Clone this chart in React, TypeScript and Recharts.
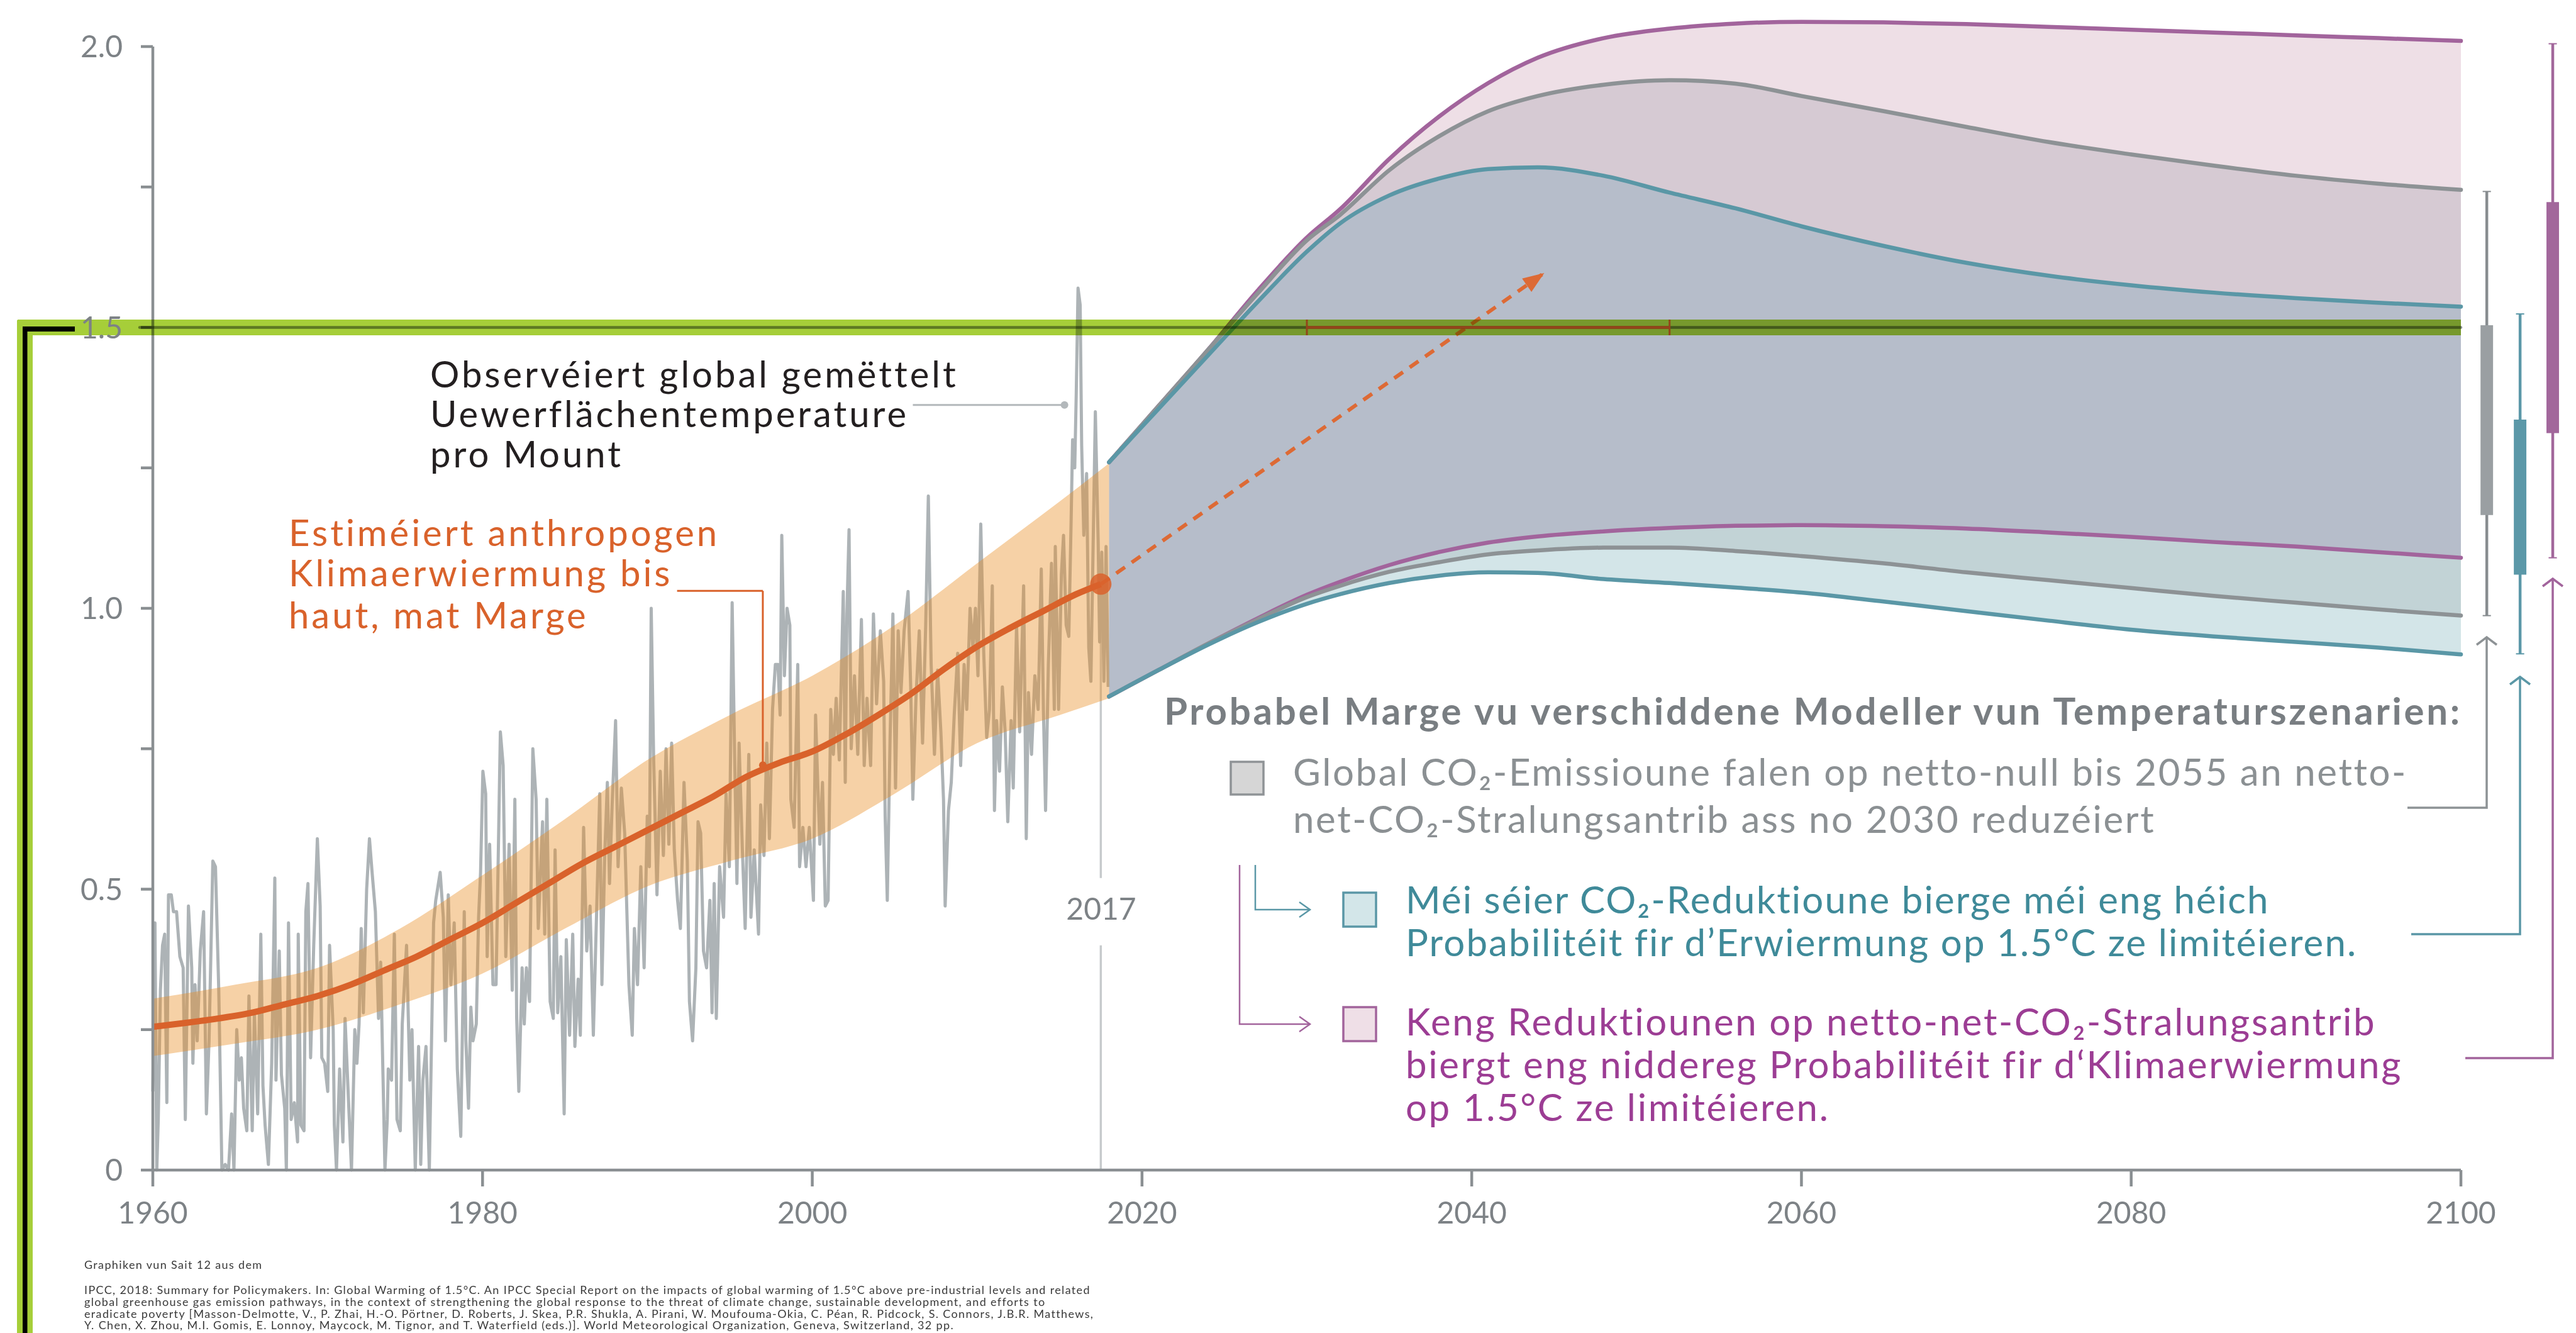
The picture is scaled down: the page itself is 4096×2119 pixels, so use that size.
import React from 'react';
import {
  Area,
  ComposedChart,
  Line,
  ReferenceArea,
  ReferenceDot,
  ReferenceLine,
  XAxis,
  YAxis,
} from 'recharts';

const FONT = 'Lato, "Noto Sans", sans-serif';
const AXIS = '#8a8f92';
const TICK = '#7d8286';
const GREEN = '#a6ce39';
const ORANGE = '#d9622b';
const TEAL = '#5a97a6';
const GREY = '#8d9295';
const PURPLE = '#a2649c';

// observed monthly global mean surface temperature, [year, °C]
const observedMonthly: [number, number][] = [
  [1960.0, 0.14], [1960.13, 0.44], [1960.24, 0.0], [1960.33, 0.09], [1960.46, 0.32], [1960.59, 0.4], [1960.72, 0.42], [1960.85, 0.12],
  [1960.95, 0.49], [1961.12, 0.49], [1961.25, 0.46], [1961.44, 0.46], [1961.64, 0.38], [1961.84, 0.36], [1961.97, 0.09], [1962.16, 0.47],
  [1962.36, 0.36], [1962.43, 0.19], [1962.56, 0.33], [1962.69, 0.23], [1962.88, 0.39], [1963.08, 0.46], [1963.25, 0.1], [1963.41, 0.23],
  [1963.64, 0.55], [1963.8, 0.54], [1964.0, 0.32], [1964.19, 0.0], [1964.39, 0.01], [1964.59, 0.0], [1964.78, 0.1], [1964.92, 0.0],
  [1965.09, 0.25], [1965.24, 0.16], [1965.37, 0.2], [1965.51, 0.11], [1965.7, 0.07], [1965.83, 0.31], [1966.03, 0.07], [1966.16, 0.28],
  [1966.36, 0.1], [1966.55, 0.42], [1966.68, 0.15], [1966.81, 0.08], [1967.01, 0.01], [1967.21, 0.19], [1967.4, 0.52], [1967.47, 0.16],
  [1967.67, 0.39], [1967.8, 0.17], [1968.0, 0.11], [1968.1, 0.0], [1968.23, 0.44], [1968.39, 0.09], [1968.58, 0.12], [1968.78, 0.05],
  [1968.82, 0.42], [1968.98, 0.08], [1969.17, 0.07], [1969.28, 0.46], [1969.41, 0.51], [1969.57, 0.2], [1969.76, 0.4], [1969.98, 0.59],
  [1970.15, 0.47], [1970.25, 0.2], [1970.42, 0.19], [1970.61, 0.14], [1970.72, 0.4], [1970.94, 0.25], [1971.01, 0.08], [1971.14, 0.0],
  [1971.33, 0.18], [1971.53, 0.05], [1971.66, 0.27], [1971.86, 0.13], [1972.05, 0.0], [1972.25, 0.25], [1972.38, 0.19], [1972.51, 0.26],
  [1972.64, 0.43], [1972.77, 0.28], [1972.97, 0.5], [1973.14, 0.59], [1973.3, 0.53], [1973.5, 0.46], [1973.69, 0.27], [1973.82, 0.37],
  [1973.96, 0.17], [1974.08, 0.0], [1974.22, 0.09], [1974.28, 0.18], [1974.48, 0.16], [1974.65, 0.42], [1974.81, 0.09], [1975.01, 0.07],
  [1975.13, 0.26], [1975.39, 0.4], [1975.59, 0.16], [1975.72, 0.25], [1975.92, 0.0], [1976.12, 0.22], [1976.25, 0.01], [1976.38, 0.16],
  [1976.57, 0.22], [1976.77, 0.0], [1977.03, 0.44], [1977.16, 0.48], [1977.43, 0.53], [1977.62, 0.45], [1977.75, 0.23], [1977.92, 0.49],
  [1978.08, 0.33], [1978.28, 0.44], [1978.47, 0.18], [1978.68, 0.06], [1978.89, 0.46], [1978.99, 0.23], [1979.15, 0.11], [1979.29, 0.29],
  [1979.42, 0.23], [1979.62, 0.26], [1979.76, 0.45], [1979.88, 0.53], [1980.02, 0.71], [1980.19, 0.67], [1980.28, 0.38], [1980.43, 0.58],
  [1980.63, 0.33], [1980.82, 0.33], [1981.08, 0.78], [1981.25, 0.72], [1981.41, 0.38], [1981.61, 0.58], [1981.8, 0.32], [1981.96, 0.66],
  [1982.07, 0.27], [1982.2, 0.14], [1982.4, 0.36], [1982.53, 0.26], [1982.66, 0.36], [1982.85, 0.3], [1983.05, 0.75], [1983.25, 0.66],
  [1983.38, 0.43], [1983.64, 0.62], [1983.77, 0.42], [1983.9, 0.66], [1984.1, 0.3], [1984.29, 0.27], [1984.4, 0.57], [1984.56, 0.28],
  [1984.75, 0.38], [1984.95, 0.1], [1985.08, 0.41], [1985.28, 0.24], [1985.47, 0.42], [1985.6, 0.22], [1985.8, 0.34], [1985.93, 0.24],
  [1986.13, 0.61], [1986.32, 0.39], [1986.52, 0.47], [1986.72, 0.24], [1986.91, 0.45], [1987.11, 0.67], [1987.24, 0.33], [1987.41, 0.56],
  [1987.57, 0.69], [1987.7, 0.51], [1987.86, 0.65], [1988.07, 0.8], [1988.22, 0.54], [1988.42, 0.68], [1988.62, 0.6], [1988.88, 0.33],
  [1989.08, 0.24], [1989.21, 0.43], [1989.4, 0.33], [1989.6, 0.54], [1989.8, 0.36], [1989.99, 0.63], [1990.12, 0.54], [1990.23, 1.0],
  [1990.38, 0.73], [1990.58, 0.49], [1990.78, 0.71], [1990.97, 0.56], [1991.13, 0.75], [1991.3, 0.58], [1991.47, 0.76], [1991.63, 0.57],
  [1991.83, 0.48], [1992.0, 0.43], [1992.22, 0.69], [1992.42, 0.55], [1992.55, 0.3], [1992.74, 0.23], [1992.94, 0.36], [1993.07, 0.62],
  [1993.23, 0.6], [1993.4, 0.39], [1993.59, 0.36], [1993.79, 0.48], [1993.92, 0.28], [1994.05, 0.51], [1994.18, 0.27], [1994.38, 0.54],
  [1994.62, 0.45], [1994.77, 0.67], [1994.97, 0.54], [1995.14, 1.01], [1995.3, 0.72], [1995.43, 0.51], [1995.56, 0.76], [1995.76, 0.57],
  [1995.93, 0.43], [1996.15, 0.74], [1996.28, 0.45], [1996.48, 0.57], [1996.74, 0.42], [1996.87, 0.65], [1997.07, 0.56], [1997.24, 0.76],
  [1997.4, 0.59], [1997.59, 0.82], [1997.76, 0.9], [1997.92, 0.9], [1998.05, 0.81], [1998.15, 1.13], [1998.31, 0.88], [1998.47, 1.0],
  [1998.64, 0.97], [1998.7, 0.66], [1998.9, 0.61], [1999.12, 0.9], [1999.23, 0.54], [1999.43, 0.61], [1999.62, 0.54], [1999.82, 0.61],
  [2000.07, 0.48], [2000.2, 0.81], [2000.33, 0.69], [2000.46, 0.58], [2000.62, 0.69], [2000.79, 0.47], [2000.96, 0.48], [2001.12, 0.82],
  [2001.28, 0.74], [2001.45, 0.84], [2001.64, 0.73], [2001.88, 1.03], [2002.0, 0.69], [2002.1, 0.99], [2002.23, 1.14], [2002.36, 0.75],
  [2002.56, 0.88], [2002.76, 0.74], [2002.98, 0.98], [2003.15, 0.72], [2003.32, 0.84], [2003.54, 0.72], [2003.71, 0.99], [2003.9, 0.83],
  [2004.13, 0.96], [2004.33, 0.87], [2004.42, 0.63], [2004.55, 0.48], [2004.72, 0.77], [2004.89, 0.99], [2005.05, 0.68], [2005.21, 0.96],
  [2005.38, 0.85], [2005.57, 0.96], [2005.81, 1.03], [2005.97, 0.86], [2006.1, 0.66], [2006.29, 0.84], [2006.49, 0.96], [2006.69, 0.76],
  [2006.88, 0.97], [2007.04, 1.2], [2007.21, 0.9], [2007.41, 0.74], [2007.6, 0.89], [2007.8, 0.78], [2007.96, 0.66], [2008.06, 0.47],
  [2008.26, 0.64], [2008.43, 0.69], [2008.61, 0.81], [2008.82, 0.92], [2009.0, 0.72], [2009.21, 0.9], [2009.37, 0.82], [2009.57, 1.0],
  [2009.74, 0.93], [2009.9, 1.0], [2010.05, 0.88], [2010.22, 1.15], [2010.4, 0.92], [2010.58, 0.77], [2010.75, 0.82], [2010.92, 1.04],
  [2011.05, 0.64], [2011.18, 0.8], [2011.36, 0.71], [2011.53, 0.86], [2011.7, 0.78], [2011.86, 0.62], [2012.06, 0.8], [2012.19, 0.68],
  [2012.39, 0.97], [2012.58, 0.78], [2012.82, 1.04], [2012.98, 0.59], [2013.11, 0.85], [2013.3, 0.74], [2013.5, 0.88], [2013.7, 0.82],
  [2013.89, 1.07], [2014.02, 0.82], [2014.15, 0.64], [2014.32, 0.9], [2014.51, 1.08], [2014.68, 0.82], [2014.74, 1.11], [2014.94, 0.82],
  [2015.11, 1.06], [2015.24, 1.13], [2015.4, 0.97], [2015.56, 0.95], [2015.69, 1.14], [2015.79, 1.3], [2015.92, 1.25], [2016.01, 1.38],
  [2016.12, 1.57], [2016.25, 1.54], [2016.34, 1.29], [2016.47, 1.13], [2016.64, 1.24], [2016.77, 0.93], [2016.9, 0.87], [2017.04, 1.12],
  [2017.17, 1.35], [2017.34, 1.12], [2017.43, 0.94], [2017.56, 1.1], [2017.69, 0.87], [2017.82, 1.11], [2017.95, 0.86],
];

// estimated human-induced warming and its likely range
const bandYears = [1960, 1965, 1970, 1975, 1980, 1985, 1990, 1995, 2000, 2005, 2010, 2015, 2018];
const bandLow = [0.203, 0.225, 0.25, 0.295, 0.35, 0.43, 0.505, 0.55, 0.59, 0.67, 0.76, 0.81, 0.84];
const bandHigh = [0.305, 0.33, 0.36, 0.43, 0.525, 0.625, 0.73, 0.81, 0.88, 0.97, 1.08, 1.19, 1.258];

const trendYears = [1960, 1962, 1964, 1966, 1968, 1970, 1972, 1974, 1976, 1978, 1980, 1982, 1984, 1986, 1988,
  1990, 1992, 1994, 1996, 1998, 2000, 2002, 2004, 2006, 2008, 2010, 2012, 2014, 2016, 2017.5];
const trendValues = [0.255, 0.262, 0.27, 0.28, 0.295, 0.31, 0.33, 0.355, 0.38, 0.41, 0.44, 0.475, 0.51, 0.545, 0.575,
  0.605, 0.635, 0.665, 0.7, 0.725, 0.745, 0.775, 0.81, 0.848, 0.892, 0.932, 0.965, 0.995, 1.025, 1.043];

// dashed continuation arrow
const arrowYears = [2017.5, 2044.4];
const arrowValues = [1.043, 1.597];

// projected likely ranges
const projYears = [2018, 2021, 2024, 2027, 2030, 2032, 2035, 2038, 2041, 2044, 2048, 2052, 2056, 2060, 2065, 2070, 2075, 2080, 2085, 2090, 2095, 2100];
const purpleHigh = [1.26, 1.36, 1.46, 1.565, 1.66, 1.71, 1.8, 1.875, 1.935, 1.98, 2.015, 2.032, 2.041, 2.044, 2.043, 2.04, 2.035, 2.03, 2.025, 2.02, 2.015, 2.01];
const greyHigh = [1.26, 1.36, 1.46, 1.56, 1.655, 1.7, 1.78, 1.84, 1.885, 1.912, 1.932, 1.94, 1.934, 1.912, 1.885, 1.857, 1.83, 1.808, 1.788, 1.77, 1.756, 1.745];
const tealHigh = [1.26, 1.355, 1.45, 1.545, 1.635, 1.685, 1.735, 1.765, 1.782, 1.785, 1.77, 1.74, 1.712, 1.68, 1.645, 1.615, 1.592, 1.575, 1.562, 1.552, 1.544, 1.537];
const purpleLow = [0.843, 0.89, 0.937, 0.982, 1.024, 1.047, 1.077, 1.1, 1.117, 1.128, 1.137, 1.143, 1.147, 1.148, 1.146, 1.142, 1.135, 1.127, 1.118, 1.11, 1.1, 1.09];
const greyLow = [0.843, 0.89, 0.937, 0.98, 1.02, 1.04, 1.065, 1.082, 1.096, 1.103, 1.108, 1.108, 1.102, 1.093, 1.08, 1.064, 1.05, 1.036, 1.022, 1.01, 0.998, 0.987];
const tealLow = [0.843, 0.89, 0.935, 0.975, 1.008, 1.025, 1.045, 1.058, 1.064, 1.063, 1.052, 1.045, 1.037, 1.028, 1.012, 0.995, 0.978, 0.962, 0.95, 0.94, 0.93, 0.918];

// ranges in 2100 (whisker low, box low, box high, whisker high)
const boxLow = [0.987, 0.919, 1.09];
const boxQ1 = [1.166, 1.06, 1.312];
const boxQ3 = [1.504, 1.336, 1.723];
const boxHigh = [1.742, 1.524, 2.005];

// 1.5 °C reached between
const crossStart = 2030;
const crossEnd = 2052;

const xTicks = [1960, 1980, 2000, 2020, 2040, 2060, 2080, 2100];
const yTicks = [0, 0.25, 0.5, 0.75, 1, 1.25, 1.5, 1.75, 2];

// layout
const boxX = [2101.57, 2103.59, 2105.57];
const boxFill = ['#9a9fa2', '#5b98a8', '#a2679b'];
const boxLine = ['#888d90', '#5b98a8', '#a2679b'];

const observedData = observedMonthly.map(([year, temp]) => ({ year, temp }));
const bandData = bandYears.map((year, i) => ({ year, range: [bandLow[i], bandHigh[i]] }));
const trendData = trendYears.map((year, i) => ({ year, trend: trendValues[i] }));
const arrowData = arrowYears.map((year, i) => ({ year, arrow: arrowValues[i] }));
const projData = projYears.map((year, i) => ({
  year,
  purpleHigh: purpleHigh[i],
  greyHigh: greyHigh[i],
  tealHigh: tealHigh[i],
  purpleLow: purpleLow[i],
  greyLow: greyLow[i],
  tealLow: tealLow[i],
  f1: [tealLow[i], greyLow[i]],
  f2: [greyLow[i], purpleLow[i]],
  f3: [purpleLow[i], tealHigh[i]],
  f4: [tealHigh[i], greyHigh[i]],
  f5: [greyHigh[i], purpleHigh[i]],
}));

const fmtY = (v: number) => (v === 0 ? '0' : Math.round(v * 4) % 2 === 0 ? v.toFixed(1) : '');

const ArrowHead = (props: any) => {
  const { cx, cy, index, points } = props;
  if (index !== 1 || cx == null) return <g key={`ah-${index}`} />;
  let ang = -0.608;
  if (points && points.length > 1) ang = Math.atan2(cy - points[0].y, cx - points[0].x);
  const len = 34;
  const hw = 13;
  const bx = cx - len * Math.cos(ang);
  const by = cy - len * Math.sin(ang);
  const nx = -Math.sin(ang) * hw;
  const ny = Math.cos(ang) * hw;
  return (
    <polygon key={`ah-${index}`} points={`${cx},${cy} ${bx + nx},${by + ny} ${bx - nx},${by - ny}`} fill="#dd6a35" />
  );
};

const multBand = (p: any) => (
  <rect x={p.x} y={p.y} width={p.width} height={p.height} fill={GREEN} style={{ mixBlendMode: 'multiply' }} />
);

const Chev = ({ x, y, dir, color, w }: { x: number; y: number; dir: 'right' | 'up'; color: string; w: number }) =>
  dir === 'right' ? (
    <polyline points={`${x - 17},${y - 12} ${x},${y} ${x - 17},${y + 12}`} fill="none" stroke={color} strokeWidth={w} />
  ) : (
    <polyline points={`${x - 16},${y + 12} ${x},${y} ${x + 16},${y + 12}`} fill="none" stroke={color} strokeWidth={w} />
  );

export default function App() {
  return (
    <div style={{ position: 'relative', width: 4096, height: 2119, overflow: 'hidden', background: '#fff' }}>
      <style>{`body{margin:0} svg [clip-path]{clip-path:none !important} .mult{mix-blend-mode:multiply}`}</style>
      <ComposedChart width={4096} height={2119} margin={{ top: 74, right: 183, bottom: 179, left: 0 }}>
        <XAxis
          dataKey="year"
          type="number"
          domain={[1960, 2100]}
          ticks={xTicks}
          interval={0}
          height={80}
          tickSize={26}
          tickMargin={25}
          axisLine={{ stroke: AXIS, strokeWidth: 4.5 }}
          tickLine={{ stroke: AXIS, strokeWidth: 4.5 }}
          tick={{ fill: TICK, fontSize: 48, fontFamily: FONT }}
        />
        <YAxis
          type="number"
          domain={[0, 2]}
          allowDataOverflow
          ticks={yTicks}
          interval={0}
          width={243}
          tickSize={19}
          tickMargin={29}
          tickFormatter={fmtY}
          axisLine={{ stroke: AXIS, strokeWidth: 4.5 }}
          tickLine={{ stroke: AXIS, strokeWidth: 4.5 }}
          tick={{ fill: TICK, fontSize: 48, fontFamily: FONT }}
        />

        <Area data={projData} dataKey="f1" type="monotone" stroke="none" fill="#d3e5e8" fillOpacity={1} isAnimationActive={false} zIndex={101} />
        <Area data={projData} dataKey="f2" type="monotone" stroke="none" fill="#c2d3d6" fillOpacity={1} isAnimationActive={false} zIndex={102} />
        <Area data={projData} dataKey="f3" type="monotone" stroke="none" fill="#b6bdca" fillOpacity={1} isAnimationActive={false} zIndex={103} />
        <Area data={projData} dataKey="f4" type="monotone" stroke="none" fill="#d6cad3" fillOpacity={1} isAnimationActive={false} zIndex={104} />
        <Area data={projData} dataKey="f5" type="monotone" stroke="none" fill="#eedfe6" fillOpacity={1} isAnimationActive={false} zIndex={105} />

        <ReferenceLine segment={[{ x: 2017.5, y: 1.04 }, { x: 2017.5, y: 0.52 }]} stroke="#c6cacc" strokeWidth={3.4} ifOverflow="visible" zIndex={110} />
        <ReferenceLine segment={[{ x: 2017.5, y: 0.4 }, { x: 2017.5, y: 0 }]} stroke="#c6cacc" strokeWidth={3.4} ifOverflow="visible" zIndex={110} />

        <Line data={observedData} dataKey="temp" type="linear" stroke="#adb3b6" strokeWidth={5} strokeLinejoin="round" dot={false} isAnimationActive={false} zIndex={120} />
        <Area data={bandData} dataKey="range" type="monotone" stroke="none" fill="#e88c20" fillOpacity={0.4} isAnimationActive={false} zIndex={130} />
        <Line data={trendData} dataKey="trend" type="monotone" stroke={ORANGE} strokeWidth={10} dot={false} isAnimationActive={false} zIndex={140} />

        <Line data={projData} dataKey="purpleLow" type="monotone" stroke={PURPLE} strokeWidth={6.5} strokeLinecap="round" dot={false} isAnimationActive={false} zIndex={150} />
        <Line data={projData} dataKey="greyLow" type="monotone" stroke={GREY} strokeWidth={6.5} strokeLinecap="round" dot={false} isAnimationActive={false} zIndex={151} />
        <Line data={projData} dataKey="tealLow" type="monotone" stroke={TEAL} strokeWidth={6.5} strokeLinecap="round" dot={false} isAnimationActive={false} zIndex={152} />
        <Line data={projData} dataKey="purpleHigh" type="monotone" stroke={PURPLE} strokeWidth={6.5} strokeLinecap="round" dot={false} isAnimationActive={false} zIndex={153} />
        <Line data={projData} dataKey="greyHigh" type="monotone" stroke={GREY} strokeWidth={6.5} strokeLinecap="round" dot={false} isAnimationActive={false} zIndex={154} />
        <Line data={projData} dataKey="tealHigh" type="monotone" stroke={TEAL} strokeWidth={6.5} strokeLinecap="round" dot={false} isAnimationActive={false} zIndex={155} />

        <Line data={arrowData} dataKey="arrow" type="linear" stroke="#dd6a35" strokeWidth={6} strokeDasharray="17 13" dot={ArrowHead} isAnimationActive={false} zIndex={160} />
        <ReferenceDot x={2017.5} y={1.043} r={17} fill={ORANGE} fillOpacity={0.85} stroke="none" ifOverflow="visible" zIndex={170} />

        <ReferenceLine segment={[{ x: 2006.1, y: 1.362 }, { x: 2015.3, y: 1.362 }]} stroke="#b3b8bb" strokeWidth={3} ifOverflow="visible" zIndex={180} />
        <ReferenceDot x={2015.3} y={1.362} r={6} fill="#b3b8bb" stroke="none" ifOverflow="visible" zIndex={181} />
        <ReferenceLine segment={[{ x: 1991.8, y: 1.031 }, { x: 1997.0, y: 1.031 }]} stroke={ORANGE} strokeWidth={3} ifOverflow="visible" zIndex={180} />
        <ReferenceLine segment={[{ x: 1997.0, y: 1.031 }, { x: 1997.0, y: 0.721 }]} stroke={ORANGE} strokeWidth={3} ifOverflow="visible" zIndex={180} />
        <ReferenceDot x={1997.0} y={0.721} r={6} fill={ORANGE} stroke="none" ifOverflow="visible" zIndex={181} />

        {boxX.map((bx, i) => (
          <ReferenceLine key={`w${i}`} segment={[{ x: bx, y: boxLow[i] }, { x: bx, y: boxHigh[i] }]} stroke={boxLine[i]} strokeWidth={4.5} ifOverflow="visible" zIndex={190} />
        ))}
        {boxX.map((bx, i) => (
          <ReferenceLine key={`cl${i}`} segment={[{ x: bx - 0.25, y: boxLow[i] }, { x: bx + 0.25, y: boxLow[i] }]} stroke={boxLine[i]} strokeWidth={2} ifOverflow="visible" zIndex={190} />
        ))}
        {boxX.map((bx, i) => (
          <ReferenceLine key={`ch${i}`} segment={[{ x: bx - 0.25, y: boxHigh[i] }, { x: bx + 0.25, y: boxHigh[i] }]} stroke={boxLine[i]} strokeWidth={2} ifOverflow="visible" zIndex={190} />
        ))}
        {boxX.map((bx, i) => (
          <ReferenceArea key={`b${i}`} x1={bx - 0.38} x2={bx + 0.38} y1={boxQ1[i]} y2={boxQ3[i]} fill={boxFill[i]} fillOpacity={1} stroke="none" ifOverflow="visible" zIndex={191} />
        ))}

        <ReferenceArea x1={1951.8} x2={2100} y1={1.486} y2={1.514} shape={multBand} ifOverflow="visible" zIndex={600} />
        <ReferenceLine className="mult" segment={[{ x: 1959.2, y: 1.5 }, { x: 2100, y: 1.5 }]} stroke="#8f9497" strokeWidth={4.5} strokeLinecap="round" ifOverflow="visible" zIndex={610} />
        <ReferenceLine segment={[{ x: crossStart, y: 1.5 }, { x: crossEnd, y: 1.5 }]} stroke="#93451a" strokeWidth={4.5} ifOverflow="visible" zIndex={620} />
        <ReferenceLine segment={[{ x: crossStart, y: 1.486 }, { x: crossStart, y: 1.514 }]} stroke="#93451a" strokeWidth={3} ifOverflow="visible" zIndex={620} />
        <ReferenceLine segment={[{ x: crossEnd, y: 1.486 }, { x: crossEnd, y: 1.514 }]} stroke="#93451a" strokeWidth={3} ifOverflow="visible" zIndex={620} />
      </ComposedChart>

      <svg width={4096} height={2119} style={{ position: 'absolute', left: 0, top: 0, pointerEvents: 'none' }} fontFamily={FONT}>
        {/* frame */}
        <rect x={27} y={509} width={25} height={1610} fill={GREEN} />
        <rect x={36} y={519} width={7.5} height={1600} fill="#000" />
        <rect x={36} y={519} width={83} height={8} fill="#000" />

        {/* annotations */}
        <g fontSize={58} fill="#231f20" letterSpacing={4}>
          <text x={684} y={616}>Observéiert global gemëttelt</text>
          <text x={684} y={679}>Uewerflächentemperature</text>
          <text x={684} y={743}>pro Mount</text>
        </g>
        <g fontSize={58} fill={ORANGE} letterSpacing={4}>
          <text x={459} y={868}>Estiméiert anthropogen</text>
          <text x={459} y={932}>Klimaerwiermung bis</text>
          <text x={459} y={999}>haut, mat Marge</text>
        </g>
        <text x={1751} y={1462} fontSize={48} fill={TICK} textAnchor="middle">2017</text>

        {/* legend */}
        <text x={1851} y={1152} fontSize={60} fontWeight={700} fill="#797e82" letterSpacing={3.7}>
          Probabel Marge vu verschiddene Modeller vun Temperaturszenarien:
        </text>
        <rect x={1957} y={1211} width={52} height={52} fill="#d6d6d6" stroke="#8f9396" strokeWidth={3.5} />
        <g fontSize={60} fill="#8b9093" letterSpacing={2.6}>
          <text x={2056} y={1249}>Global CO₂-Emissioune falen op netto-null bis 2055 an netto-</text>
          <text x={2056} y={1324}>net-CO₂-Stralungsantrib ass no 2030 reduzéiert</text>
        </g>
        <rect x={2136} y={1419} width={52} height={54} fill="#d3e6e9" stroke={TEAL} strokeWidth={3.5} />
        <g fontSize={60} fill="#3f8a99" letterSpacing={2.1}>
          <text x={2235} y={1452}>Méi séier CO₂-Reduktioune bierge méi eng héich</text>
          <text x={2235} y={1520}>Probabilitéit fir d’Erwiermung op 1.5°C ze limitéieren.</text>
        </g>
        <rect x={2136} y={1601} width={52} height={54} fill="#efdfe7" stroke={PURPLE} strokeWidth={3.5} />
        <g fontSize={60} fill="#9c3d94" letterSpacing={2.6}>
          <text x={2235} y={1646}>Keng Reduktiounen op netto-net-CO₂-Stralungsantrib</text>
          <text x={2235} y={1714}>biergt eng niddereg Probabilitéit fir d‘Klimaerwiermung</text>
          <text x={2235} y={1782}>op 1.5°C ze limitéieren.</text>
        </g>

        {/* connectors */}
        <polyline points="1971,1375 1971,1628 2083,1628" fill="none" stroke={PURPLE} strokeWidth={2.5} />
        <Chev x={2083} y={1628} dir="right" color={PURPLE} w={2.5} />
        <polyline points="1996,1375 1996,1446 2083,1446" fill="none" stroke={TEAL} strokeWidth={2.5} />
        <Chev x={2083} y={1446} dir="right" color={TEAL} w={2.5} />

        <polyline points="3828,1284 3954,1284 3954,1013" fill="none" stroke={GREY} strokeWidth={3.5} />
        <Chev x={3954} y={1013} dir="up" color={GREY} w={3.5} />
        <polyline points="3834,1485 4007,1485 4007,1076" fill="none" stroke={TEAL} strokeWidth={3.5} />
        <Chev x={4007} y={1076} dir="up" color={TEAL} w={3.5} />
        <polyline points="3920,1682 4059,1682 4059,920" fill="none" stroke={PURPLE} strokeWidth={3.5} />
        <Chev x={4059} y={920} dir="up" color={PURPLE} w={3.5} />

        {/* source */}
        <g fontSize={18} fill="#3a3a3a" letterSpacing={1.35}>
          <text x={134} y={2017}>Graphiken vun Sait 12 aus dem</text>
          <text x={134} y={2057}>IPCC, 2018: Summary for Policymakers. In: Global Warming of 1.5°C. An IPCC Special Report on the impacts of global warming of 1.5°C above pre-industrial levels and related</text>
          <text x={134} y={2076}>global greenhouse gas emission pathways, in the context of strengthening the global response to the threat of climate change, sustainable development, and efforts to</text>
          <text x={134} y={2095}>eradicate poverty [Masson-Delmotte, V., P. Zhai, H.-O. Pörtner, D. Roberts, J. Skea, P.R. Shukla, A. Pirani, W. Moufouma-Okia, C. Péan, R. Pidcock, S. Connors, J.B.R. Matthews,</text>
          <text x={134} y={2113}>Y. Chen, X. Zhou, M.I. Gomis, E. Lonnoy, Maycock, M. Tignor, and T. Waterfield (eds.)]. World Meteorological Organization, Geneva, Switzerland, 32 pp.</text>
        </g>
      </svg>
    </div>
  );
}
